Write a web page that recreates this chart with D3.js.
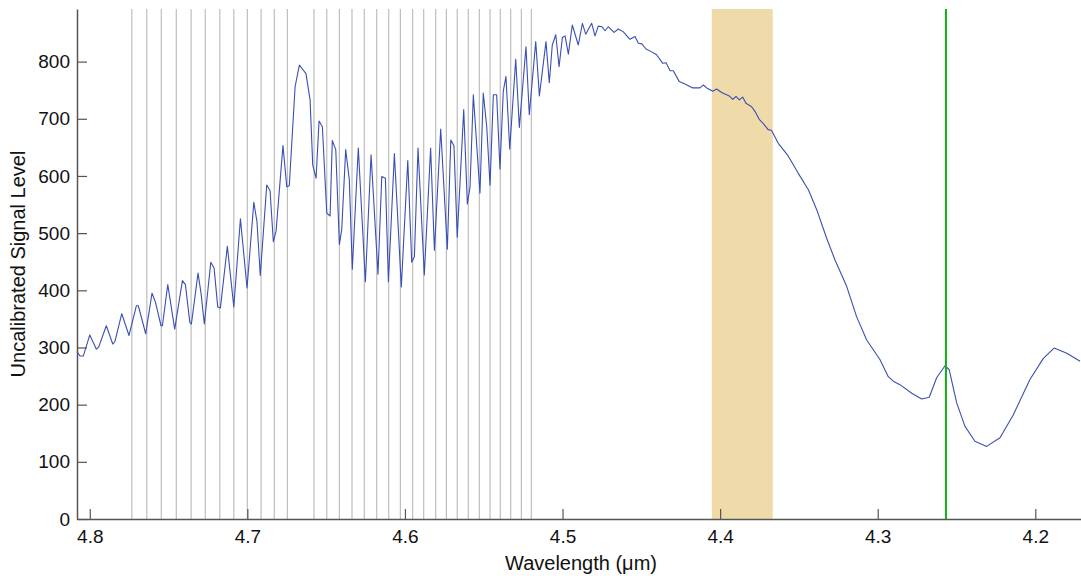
<!DOCTYPE html>
<html>
<head>
<meta charset="utf-8">
<script src="https://cdn.jsdelivr.net/npm/d3@7"></script>
<style>
  html, body { margin: 0; padding: 0; background: #fff; }
  svg { display: block; font-family: "Liberation Sans", Arial, sans-serif; }
</style>
</head>
<body>
<svg id="chart" width="1081" height="576"></svg>
<script>
// Wavelength (µm) samples of the spectrum
const wavelength = [
  4.8081, 4.8062, 4.8041, 4.8000, 4.7958, 4.7943, 4.7895, 4.7854, 4.7841, 4.7797,
  4.7751, 4.7704, 4.7692, 4.7645, 4.7605, 4.7584, 4.7548, 4.7539, 4.7505, 4.7461,
  4.7412, 4.7393, 4.7365, 4.7355, 4.7313, 4.7294, 4.7273, 4.7232, 4.7211, 4.7188,
  4.7171, 4.7127, 4.7086, 4.7044, 4.7002, 4.6959, 4.6939, 4.6918, 4.6877, 4.6856,
  4.6835, 4.6818, 4.6774, 4.6750, 4.6734, 4.6697, 4.6670, 4.6628, 4.6602, 4.6585,
  4.6564, 4.6545, 4.6524, 4.6496, 4.6475, 4.6461, 4.6439, 4.6416, 4.6401, 4.6376,
  4.6353, 4.6334, 4.6296, 4.6251, 4.6215, 4.6171, 4.6147, 4.6124, 4.6105, 4.6067,
  4.6023, 4.5982, 4.5957, 4.5940, 4.5917, 4.5877, 4.5837, 4.5813, 4.5773, 4.5731,
  4.5709, 4.5689, 4.5668, 4.5627, 4.5604, 4.5587, 4.5566, 4.5524, 4.5503, 4.5481,
  4.5460, 4.5439, 4.5418, 4.5397, 4.5376, 4.5359, 4.5335, 4.5297, 4.5274, 4.5232,
  4.5211, 4.5170, 4.5147, 4.5105, 4.5084, 4.5065, 4.5043, 4.5022, 4.5001, 4.4984,
  4.4963, 4.4938, 4.4900, 4.4874, 4.4853, 4.4815, 4.4794, 4.4773, 4.4751, 4.4730,
  4.4710, 4.4673, 4.4646, 4.4614, 4.4572, 4.4540, 4.4519, 4.4497, 4.4470, 4.4434,
  4.4403, 4.4364, 4.4343, 4.4318, 4.4297, 4.4259, 4.4223, 4.4174, 4.4149, 4.4128,
  4.4107, 4.4085, 4.4047, 4.4022, 4.3990, 4.3942, 4.3920, 4.3899, 4.3878, 4.3857,
  4.3836, 4.3800, 4.3779, 4.3752, 4.3727, 4.3695, 4.3674, 4.3631, 4.3568, 4.3505,
  4.3440, 4.3387, 4.3324, 4.3271, 4.3197, 4.3134, 4.3070, 4.2986, 4.2933, 4.2901,
  4.2859, 4.2784, 4.2721, 4.2673, 4.2626, 4.2573, 4.2546, 4.2499, 4.2446, 4.2383,
  4.2309, 4.2224, 4.2140, 4.2034, 4.1949, 4.1881, 4.1800, 4.1716
];
// Uncalibrated signal level at each sample
const signal = [
  293, 285, 285, 322, 297, 301, 338, 306, 310, 359,
  321, 373, 373, 324, 395, 380, 338, 338, 410, 332,
  417, 410, 344, 341, 430, 395, 341, 449, 439, 371,
  369, 477, 371, 525, 404, 554, 520, 426, 584, 574,
  485, 503, 653, 581, 583, 756, 794, 779, 733, 619,
  596, 696, 686, 535, 530, 662, 646, 480, 507, 646,
  593, 437, 649, 415, 637, 428, 599, 596, 415, 639,
  406, 627, 449, 459, 649, 427, 649, 470, 682, 472,
  663, 653, 493, 716, 551, 581, 742, 570, 745, 686,
  584, 742, 742, 612, 748, 774, 647, 804, 685, 826,
  707, 835, 740, 835, 763, 829, 847, 791, 842, 845,
  813, 864, 829, 867, 848, 867, 845, 862, 861, 854,
  861, 851, 857, 852, 839, 844, 832, 831, 822, 817,
  812, 797, 798, 784, 784, 765, 761, 754, 754, 754,
  759, 754, 748, 752, 746, 740, 734, 739, 733, 738,
  727, 721, 713, 699, 692, 681, 680, 657, 635, 605,
  576, 541, 491, 453, 407, 354, 313, 279, 249, 241,
  235, 220, 210, 213, 247, 268, 261, 203, 162, 136,
  127, 142, 182, 244, 281, 299, 290, 276
];
// Reference line positions (gray verticals), µm
const lineMarkers = [
  4.7733, 4.7638, 4.7546, 4.7451, 4.7357, 4.7267, 4.7175, 4.7086, 4.7000, 4.6913,
  4.6829, 4.6746, 4.6577, 4.6496, 4.6416, 4.6336, 4.6258, 4.6179, 4.6103, 4.6029,
  4.5951, 4.5881, 4.5805, 4.5737, 4.5668, 4.5598, 4.5528, 4.5460, 4.5395, 4.5329,
  4.5261, 4.5198
];
const bandRange = [4.4053, 4.3666];   // shaded band, µm
const greenLine = [4.2567];           // green marker, µm
const xTicks = [4.8, 4.7, 4.6, 4.5, 4.4, 4.3, 4.2];
const yTicks = [0, 100, 200, 300, 400, 500, 600, 700, 800];
const xDomain = [4.8081, 4.1710];
const yDomain = [0, 892];

(function () {
const svg = d3.select("#chart");
const mL = 77, mR = 1081, mT = 9, mB = 519;

const x = d3.scaleLinear().domain(xDomain).range([mL, mR]);
const y = d3.scaleLinear().domain(yDomain).range([mB, mT]);

// shaded band
svg.append("rect")
  .attr("x", x(bandRange[0]))
  .attr("y", mT)
  .attr("width", x(bandRange[1]) - x(bandRange[0]))
  .attr("height", mB - mT)
  .attr("fill", "#eedba9");

// gray marker lines
svg.append("g").selectAll("line").data(lineMarkers).join("line")
  .attr("x1", d => x(d)).attr("x2", d => x(d))
  .attr("y1", mT).attr("y2", mB)
  .attr("stroke", "#bdbdbd").attr("stroke-width", 1.2);

// spectrum line
const pts = wavelength.map((w, i) => [w, signal[i]]);
svg.append("path")
  .datum(pts)
  .attr("fill", "none")
  .attr("stroke", "#3a4fb5")
  .attr("stroke-width", 1.1)
  .attr("stroke-linejoin", "round")
  .attr("d", d3.line().x(d => x(d[0])).y(d => y(d[1])));

// green marker
svg.append("g").selectAll("line").data(greenLine).join("line")
  .attr("x1", d => x(d)).attr("x2", d => x(d))
  .attr("y1", mT).attr("y2", mB)
  .attr("stroke", "#12b012").attr("stroke-width", 2);

// axes
const axisColor = "#555";
const xAxis = svg.append("g")
  .attr("transform", `translate(0,${mB})`)
  .call(d3.axisBottom(x).tickValues(xTicks).tickFormat(d3.format(".1f")).tickSizeInner(-10).tickSizeOuter(0).tickPadding(11));
const yAxis = svg.append("g")
  .attr("transform", `translate(${mL},0)`)
  .call(d3.axisLeft(y).tickValues(yTicks).tickFormat(d3.format("d")).tickSizeInner(-10).tickSizeOuter(0).tickPadding(7));

[xAxis, yAxis].forEach(g => {
  g.select(".domain").attr("stroke", axisColor).attr("stroke-width", 1.5);
  g.selectAll(".tick line").attr("stroke", axisColor).attr("stroke-width", 1.2);
  g.selectAll(".tick text").attr("fill", "#111").style("font-size", "19px")
    .style("font-family", '"Liberation Sans", Arial, sans-serif');
});

// axis titles
svg.append("text")
  .attr("x", (mL + mR) / 2 + 2).attr("y", 570)
  .attr("text-anchor", "middle")
  .style("font-size", "20px").attr("fill", "#111")
  .text("Wavelength (μm)");
svg.append("text")
  .attr("transform", `translate(25,${(mT + mB) / 2}) rotate(-90)`)
  .attr("text-anchor", "middle")
  .style("font-size", "20px").attr("fill", "#111")
  .text("Uncalibrated Signal Level");
})();
</script>
</body>
</html>
